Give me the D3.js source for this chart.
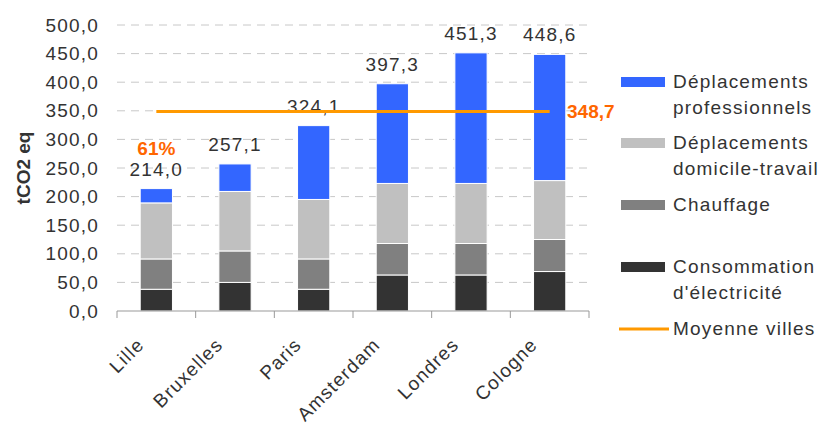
<!DOCTYPE html>
<html>
<head>
<meta charset="utf-8">
<script src="https://cdn.jsdelivr.net/npm/d3@7"></script>
<style>
  body { margin: 0; background: #fff; }
  text { font-family: "Liberation Sans", Arial, sans-serif; }
</style>
</head>
<body>
<svg id="chart" width="825" height="425"></svg>
<script>
var villes = ["Lille", "Bruxelles", "Paris", "Amsterdam", "Londres", "Cologne"];
var electricite = [38, 50, 38, 63, 63, 69];
var chauffage = [53, 55, 53, 55, 55, 56];
var domicileTravail = [98, 104, 104, 105, 105, 103];
var professionnels = [25.0, 48.1, 129.1, 174.3, 228.3, 220.6];
var moyenne = 348.7;
var partLille = "61%";
var yTicks = [0, 50, 100, 150, 200, 250, 300, 350, 400, 450, 500];

var series = [
    { key: "elec", label: ["Consommation", "d'électricité"], values: electricite, color: "#333333" },
    { key: "chauf", label: ["Chauffage"], values: chauffage, color: "#808080" },
    { key: "dom", label: ["Déplacements", "domicile-travail"], values: domicileTravail, color: "#c0c0c0" },
    { key: "pro", label: ["Déplacements", "professionnels"], values: professionnels, color: "#3366ff" }
];

var fmt = v => d3.format(".1f")(v).replace(".", ",");
var txt = "#333333";

var svg = d3.select("#chart");

var x = d3.scaleBand()
    .domain(villes)
    .range([117, 589])
    .paddingInner(0.59)
    .paddingOuter(0.295);

var y = d3.scaleLinear()
    .domain([0, 500])
    .range([311, 25]);

// grid lines
svg.append("g")
    .selectAll("line")
    .data(yTicks.filter(t => t > 0))
    .enter()
    .append("line")
    .attr("x1", 117)
    .attr("x2", 589)
    .attr("y1", d => y(d))
    .attr("y2", d => y(d))
    .attr("stroke", "#c8c8c8")
    .attr("stroke-dasharray", "8,6");

// y axis labels
var yAxis = svg.append("g")
    .attr("transform", "translate(117,0)")
    .call(d3.axisLeft(y).tickValues(yTicks).tickFormat(fmt).tickSize(0).tickPadding(18));
yAxis.select(".domain").remove();
yAxis.selectAll("text")
    .attr("fill", txt)
    .style("font-size", "19px")
    .style("letter-spacing", "1.2px");

svg.append("text")
    .attr("transform", "translate(30," + ((y(0) + y(500)) / 2) + ") rotate(-90)")
    .attr("text-anchor", "middle")
    .attr("fill", txt)
    .style("font-size", "19px")
    .style("font-weight", "bold")
    .text("tCO2 eq");

// stacked bars
var rows = villes.map((v, i) => {
    var r = { ville: v };
    series.forEach(s => r[s.key] = s.values[i]);
    return r;
});
var stack = d3.stack().keys(series.map(s => s.key))(rows);

svg.append("g")
    .selectAll("g")
    .data(stack)
    .enter()
    .append("g")
    .attr("fill", (d, i) => series[i].color)
    .selectAll("rect")
    .data(d => d)
    .enter()
    .append("rect")
    .attr("x", d => x(d.data.ville))
    .attr("width", x.bandwidth())
    .attr("y", d => y(d[1]))
    .attr("height", d => y(d[0]) - y(d[1]))
    .attr("stroke", "#fff")
    .attr("stroke-width", 1);

// x axis
var xAxis = svg.append("g").attr("stroke", "#999");
xAxis.append("line")
    .attr("x1", 117).attr("x2", 589)
    .attr("y1", y(0)).attr("y2", y(0));
xAxis.selectAll(".tick")
    .data(d3.range(villes.length + 1))
    .enter()
    .append("line")
    .attr("x1", i => 117 + i * x.step())
    .attr("x2", i => 117 + i * x.step())
    .attr("y1", y(0))
    .attr("y2", y(0) + 7);

svg.append("g")
    .selectAll("text")
    .data(villes)
    .enter()
    .append("text")
    .attr("transform", d => "translate(" + (x(d) + x.bandwidth() / 2 - 11) + ",346) rotate(-45)")
    .attr("text-anchor", "end")
    .attr("fill", txt)
    .style("font-size", "19px")
    .style("letter-spacing", "1.2px")
    .text(d => d);

// totals
var totals = rows.map(r => d3.sum(series, s => r[s.key]));
svg.append("g")
    .selectAll("text")
    .data(villes)
    .enter()
    .append("text")
    .attr("x", (d, i) => x(d) + x.bandwidth() / 2)
    .attr("y", (d, i) => y(totals[i]) - 13)
    .attr("text-anchor", "middle")
    .attr("fill", txt)
    .style("font-size", "19px")
    .style("letter-spacing", "1.2px")
    .text((d, i) => fmt(totals[i]));

svg.append("text")
    .attr("x", x(villes[0]) + x.bandwidth() / 2)
    .attr("y", 155)
    .attr("text-anchor", "middle")
    .attr("fill", "#ff6600")
    .style("font-size", "19px")
    .style("font-weight", "bold")
    .text(partLille);

// average line
svg.append("line")
    .attr("x1", x(villes[0]) + x.bandwidth() / 2)
    .attr("x2", x(villes[villes.length - 1]) + x.bandwidth() / 2)
    .attr("y1", y(moyenne))
    .attr("y2", y(moyenne))
    .attr("stroke", "#ff9900")
    .attr("stroke-width", 3);

svg.append("text")
    .attr("x", 567)
    .attr("y", y(moyenne) + 6)
    .attr("fill", "#ff6600")
    .style("font-size", "19px")
    .style("font-weight", "bold")
    .text(fmt(moyenne));

// legend
var legendY = [82, 143, 205, 267];
var legend = svg.append("g");
series.slice().reverse().forEach((s, i) => {
    var g = legend.append("g").attr("transform", "translate(621," + legendY[i] + ")");
    g.append("rect")
        .attr("x", 0).attr("y", -5)
        .attr("width", 44).attr("height", 10)
        .attr("fill", s.color);
    var t = g.append("text")
        .attr("x", 52)
        .attr("y", 6)
        .attr("fill", txt)
        .style("font-size", "19px")
        .style("letter-spacing", "1.2px");
    s.label.forEach((l, j) => {
        t.append("tspan").attr("x", 52).attr("dy", j ? 26 : 0).text(l);
    });
});
var lm = legend.append("g").attr("transform", "translate(621,329)");
lm.append("line")
    .attr("x1", -2).attr("x2", 48)
    .attr("stroke", "#ff9900")
    .attr("stroke-width", 3);
lm.append("text")
    .attr("x", 52)
    .attr("y", 6)
    .attr("fill", txt)
    .style("font-size", "19px")
    .style("letter-spacing", "1.2px")
    .text("Moyenne villes");
</script>
</body>
</html>
